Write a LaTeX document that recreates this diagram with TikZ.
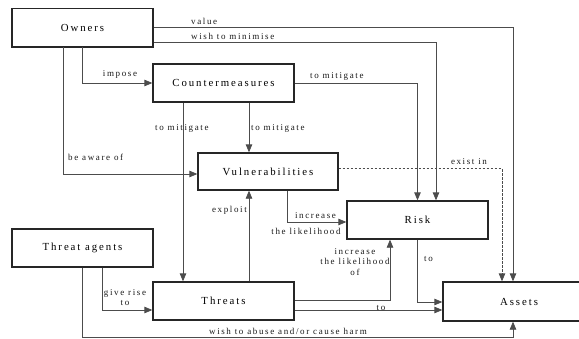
\documentclass[tikz,border=0pt]{standalone}
\usepackage{fontspec}
\setmainfont{Liberation Serif}[LetterSpace=18]
\usetikzlibrary{arrows.meta,positioning,calc}
\begin{document}
\begin{tikzpicture}[x=1pt,y=-1pt,
  box/.style={draw=black!85,line width=1.3pt,fill=white,minimum width=141pt,minimum height=38pt,inner sep=0pt,font=\fontsize{10.8}{12}\selectfont},
  conn/.style={draw=black!70,line width=0.8pt,-{Triangle[length=8pt,width=6.5pt]}},
  lab/.style={font=\fontsize{9}{10}\selectfont,inner sep=0pt,text=black!90},
]
\useasboundingbox (0,0) rectangle (579,338);
\node[box] (Owners) at (82.5,27.5) {Owners};
\node[box] (Counter) at (223.5,83) {Countermeasures};
\node[box,minimum width=140pt,minimum height=37pt] (Vul) at (268,171.5) {Vulnerabilities};
\node[box] (Risk) at (417.5,220) {Risk};
\node[box] (Agents) at (82.5,248) {Threat agents};
\node[box] (Threats) at (223.5,301) {Threats};
\node[box,minimum width=152pt,minimum height=39pt] (Assets) at (519,301.5) {Assets};
% heavier right edges
\foreach \n in {Owners,Counter,Vul,Risk,Agents,Threats}
  \draw[black!85,line width=2.2pt] ([xshift=-0.6pt]\n.north east) -- ([xshift=-0.6pt]\n.south east);
\foreach \n in {Owners,Counter,Vul,Risk,Agents,Threats,Assets}
  \draw[black!85,line width=2pt] ([yshift=0.6pt]\n.south west) -- ([yshift=0.6pt]\n.south east);
\draw[black!85,line width=2.2pt] ([xshift=0.6pt]Assets.north west) -- ([xshift=0.6pt]Assets.south west);

% coordinates for bends
\coordinate (vX) at (513,0);
\coordinate (wX) at (436,0);
\coordinate (dX) at (502,0);

% Owners -> Assets (value)
\draw[conn] (Owners.east) -- (Owners.east -| vX) -- ([xshift=-6pt]Assets.north);
\node[lab,anchor=south west] at (191,25) {value};
% Owners -> Risk (wish to minimise)
\draw[conn] ([yshift=-14.5pt]Owners.east) -- ([yshift=-14.5pt]Owners.east -| wX) -- ([xshift=18.5pt]Risk.north);
\node[lab,anchor=south west] at (191,39.5) {wish to minimise};
% Owners -> Countermeasures (impose)
\draw[conn] (Owners.south) |- (Counter.west);
\node[lab,anchor=south] at (120,79) {impose};
% Owners -> Vulnerabilities (be aware of)
\draw[conn] ([xshift=-19.5pt]Owners.south) |- ([yshift=-2.5pt]Vul.west);
\node[lab,anchor=west] at (68,157) {be aware of};
% Countermeasures -> Risk (to mitigate)
\draw[conn] (Counter.east) -| (Risk.north);
\node[lab,anchor=south west] at (310,81) {to mitigate};
% Countermeasures -> Threats (to mitigate)
\draw[conn] ([xshift=-40.5pt]Counter.south) -- ([xshift=-40.5pt]Threats.north);
\node[lab,anchor=west] at (155,128.5) {to mitigate};
% Countermeasures -> Vulnerabilities (to mitigate)
\draw[conn] ([xshift=25.5pt]Counter.south) -- ([xshift=-19pt]Vul.north);
\node[lab,anchor=west] at (251,128.5) {to mitigate};
% Threats -> Vulnerabilities (exploit)
\draw[conn] ([xshift=25.5pt]Threats.north) -- ([xshift=-19pt]Vul.south);
\node[lab,anchor=east] at (247,210) {exploit};
% Vulnerabilities -> Risk (increase the likelihood)
\draw[conn] ([xshift=19pt]Vul.south) |- ([yshift=-2pt]Risk.west);
\node[lab,anchor=south] at (315.5,219) {increase};
\node[lab,anchor=north] at (306,228) {the likelihood};
% Vulnerabilities -> Assets (exist in)
\draw[conn,dashed,dash pattern=on 2.5pt off 1.5pt] ([yshift=3pt]Vul.east) -- ([yshift=3pt]Vul.east -| dX) -- ([xshift=-17pt]Assets.north);
\node[lab,anchor=south] at (469,165) {exist in};
% Threats -> Risk (increase the likelihood of)
\draw[conn] ([yshift=1pt]Threats.east) -| ([xshift=-27.5pt]Risk.south);
\node[lab,align=center,anchor=north] at (355,248) {increase\\[0.5pt]the likelihood\\[0.5pt]of};
% Threats -> Assets (to)
\draw[conn] ([yshift=-9pt]Threats.east) -- ([yshift=-9pt]Threats.east -| Assets.west);
\node[lab,anchor=south] at (381,311) {to};
% Risk -> Assets (to)
\draw[conn] (Risk.south) |- ([yshift=-0.5pt]Assets.west);
\node[lab,anchor=west] at (424,259) {to};
% Threat agents -> Assets (wish to abuse and/or cause harm)
\draw[conn] (Agents.south) -- ++(0,70) -| ([xshift=-6pt]Assets.south);
\node[lab,anchor=south] at (288,335) {wish to abuse and/or cause harm};
% Threat agents -> Threats (give rise to)
\draw[conn] ([xshift=19.5pt]Agents.south) |- ([yshift=-9pt]Threats.west);
\node[lab,align=center] at (125,297.5) {give rise\\[0.5pt]to};
\end{tikzpicture}
\end{document}
